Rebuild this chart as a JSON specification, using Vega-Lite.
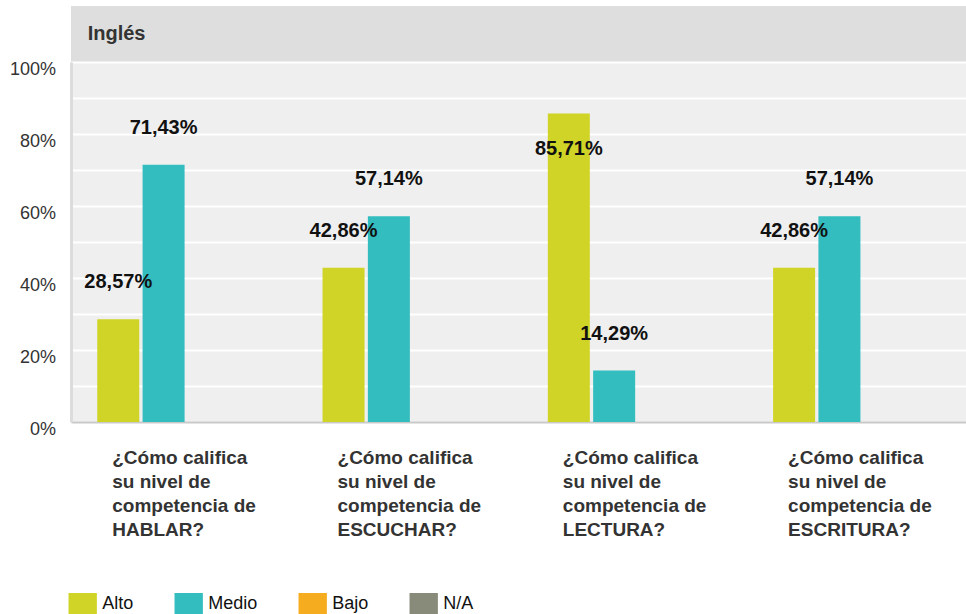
{
  "$schema": "https://vega.github.io/schema/vega-lite/v6.json",
  "autosize": {"type": "pad"},
  "padding": {"left": 9, "top": 6, "right": 0, "bottom": 0},
  "background": "white",
  "spacing": 0,
  "bounds": "flush",
  "config": {
    "font": "Liberation Sans",
    "view": {"stroke": null},
    "locale": {
      "number": {"decimal": ",", "thousands": ".", "grouping": [3], "currency": ["", " €"]}
    }
  },
  "vconcat": [
    {
      "width": 895.5,
      "height": 56,
      "view": {"fill": "#dedede", "stroke": null},
      "data": {"values": []},
      "mark": "text",
      "encoding": {}
    },
    {
      "width": 895.5,
      "height": 360,
      "view": {"fill": "#efefef", "stroke": null},
      "data": {
        "values": [
          {"pregunta": "¿Cómo califica\nsu nivel de\ncompetencia de\nHABLAR?", "nivel": "Alto", "valor": 0.2857},
          {"pregunta": "¿Cómo califica\nsu nivel de\ncompetencia de\nHABLAR?", "nivel": "Medio", "valor": 0.7143},
          {"pregunta": "¿Cómo califica\nsu nivel de\ncompetencia de\nHABLAR?", "nivel": "Bajo", "valor": 0},
          {"pregunta": "¿Cómo califica\nsu nivel de\ncompetencia de\nHABLAR?", "nivel": "N/A", "valor": 0},
          {"pregunta": "¿Cómo califica\nsu nivel de\ncompetencia de\nESCUCHAR?", "nivel": "Alto", "valor": 0.4286},
          {"pregunta": "¿Cómo califica\nsu nivel de\ncompetencia de\nESCUCHAR?", "nivel": "Medio", "valor": 0.5714},
          {"pregunta": "¿Cómo califica\nsu nivel de\ncompetencia de\nESCUCHAR?", "nivel": "Bajo", "valor": 0},
          {"pregunta": "¿Cómo califica\nsu nivel de\ncompetencia de\nESCUCHAR?", "nivel": "N/A", "valor": 0},
          {"pregunta": "¿Cómo califica\nsu nivel de\ncompetencia de\nLECTURA?", "nivel": "Alto", "valor": 0.8571},
          {"pregunta": "¿Cómo califica\nsu nivel de\ncompetencia de\nLECTURA?", "nivel": "Medio", "valor": 0.1429},
          {"pregunta": "¿Cómo califica\nsu nivel de\ncompetencia de\nLECTURA?", "nivel": "Bajo", "valor": 0},
          {"pregunta": "¿Cómo califica\nsu nivel de\ncompetencia de\nLECTURA?", "nivel": "N/A", "valor": 0},
          {"pregunta": "¿Cómo califica\nsu nivel de\ncompetencia de\nESCRITURA?", "nivel": "Alto", "valor": 0.4286},
          {"pregunta": "¿Cómo califica\nsu nivel de\ncompetencia de\nESCRITURA?", "nivel": "Medio", "valor": 0.5714},
          {"pregunta": "¿Cómo califica\nsu nivel de\ncompetencia de\nESCRITURA?", "nivel": "Bajo", "valor": 0},
          {"pregunta": "¿Cómo califica\nsu nivel de\ncompetencia de\nESCRITURA?", "nivel": "N/A", "valor": 0}
        ]
      },
      "encoding": {
        "x": {
          "field": "pregunta",
          "type": "nominal",
          "sort": null,
          "scale": {"paddingInner": 0.21, "paddingOuter": 0.0925, "align": 0.63},
          "axis": {
            "title": null,
            "labelAngle": 0,
            "labelAlign": "left",
            "labelBaseline": "top",
            "labelOffset": -74,
            "labelPadding": 26,
            "labelFontSize": 19,
            "labelFontWeight": "bold",
            "labelColor": "#333333",
            "labelLineHeight": 24,
            "labelLimit": 0,
            "labelOverlap": false,
            "ticks": false,
            "domainColor": "#c9c9c9",
            "domainWidth": 2,
            "labelExpr": "split(datum.value, '\\n')"
          }
        },
        "xOffset": {
          "field": "nivel",
          "type": "nominal",
          "scale": {"domain": ["Alto", "Medio", "Bajo", "N/A"], "paddingInner": 0.073, "paddingOuter": 0}
        },
        "y": {
          "field": "valor",
          "type": "quantitative",
          "scale": {"domain": [0, 1]},
          "axis": {
            "title": "Inglés",
            "titleAngle": 0,
            "titleAlign": "left",
            "titleBaseline": "alphabetic",
            "titleX": 16.2,
            "titleY": -22.5,
            "titleFontSize": 20,
            "titleFontWeight": "bold",
            "titleColor": "#333333",
            "values": [0, 0.1, 0.2, 0.3, 0.4, 0.5, 0.6, 0.7, 0.8, 0.9, 1],
            "format": ".0%",
            "labelExpr": "round(datum.value * 10) % 2 == 0 ? datum.label : ''",
            "ticks": false,
            "labelPadding": 15.5,
            "labelFontSize": 18,
            "labelColor": "#333333",
            "labelOffset": 7,
            "grid": true,
            "gridColor": "#ffffff",
            "gridWidth": 2,
            "domainColor": "#dcdcdc",
            "domainWidth": 3
          }
        }
      },
      "layer": [
        {
          "mark": {"type": "bar"},
          "encoding": {
            "color": {
              "field": "nivel",
              "type": "nominal",
              "scale": {
                "domain": ["Alto", "Medio", "Bajo", "N/A"],
                "range": ["#d0d426", "#33bdbf", "#f5ac1e", "#888a7a"]
              },
              "legend": {
                "title": null,
                "orient": "none",
                "direction": "horizontal",
                "legendX": 1.2,
                "legendY": 587,
                "symbolType": "M-1.35,-1H1.35V1H-1.35Z",
                "symbolSize": 441,
                "symbolStrokeWidth": 0,
                "symbolOpacity": 1,
                "labelFontSize": 18,
                "labelColor": "#111111",
                "labelOffset": 9,
                "columnPadding": 40
              }
            }
          }
        },
        {
          "transform": [{"filter": "datum.valor > 0 && datum.valor <= 0.8"}],
          "mark": {"type": "text", "dy": -31, "baseline": "alphabetic", "fontSize": 20, "fontWeight": "bold", "color": "#111111"},
          "encoding": {"text": {"field": "valor", "type": "quantitative", "format": ".2%"}}
        },
        {
          "transform": [{"filter": "datum.valor > 0.8"}],
          "mark": {"type": "text", "dy": 42, "baseline": "alphabetic", "fontSize": 20, "fontWeight": "bold", "color": "#111111"},
          "encoding": {"text": {"field": "valor", "type": "quantitative", "format": ".2%"}}
        }
      ]
    }
  ]
}
